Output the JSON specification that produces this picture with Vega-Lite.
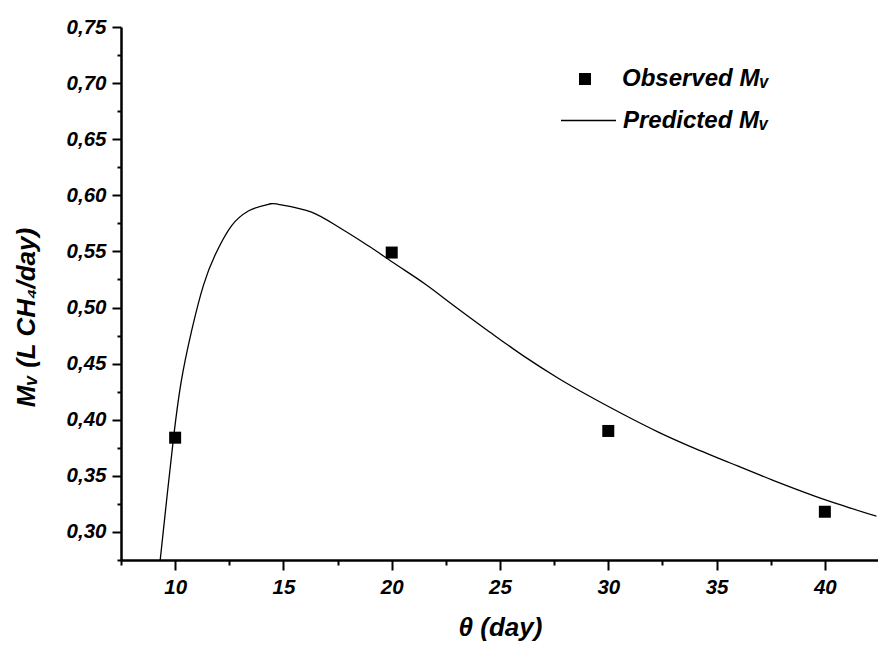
{
  "$schema": "https://vega.github.io/schema/vega-lite/v6.json",
  "autosize": "none",
  "width": 758,
  "height": 533,
  "padding": {"left": 121, "top": 27, "right": 0, "bottom": 88},
  "background": "white",
  "config": {
    "view": {"stroke": null},
    "font": "Liberation Sans",
    "axis": {
      "grid": false,
      "domainColor": "black",
      "domainWidth": 2.5,
      "tickColor": "black",
      "tickWidth": 2,
      "labelFont": "Liberation Sans",
      "labelFontWeight": "bold",
      "labelFontStyle": "italic",
      "labelFontSize": 20.5,
      "labelColor": "black",
      "titleFont": "Liberation Sans",
      "titleFontWeight": "bold",
      "titleFontStyle": "italic",
      "titleFontSize": 26,
      "titleColor": "black"
    },
    "legend": {
      "title": null,
      "orient": "none",
      "labelFont": "Liberation Sans",
      "labelFontSize": 24,
      "labelFontWeight": "bold",
      "labelFontStyle": "italic",
      "labelColor": "black",
      "symbolOpacity": 1
    }
  },
  "datasets": {
    "observed": [
      {"theta": 10, "mv": 0.384, "series": "Observed Mᵥ"},
      {"theta": 20, "mv": 0.549, "series": "Observed Mᵥ"},
      {"theta": 30, "mv": 0.390, "series": "Observed Mᵥ"},
      {"theta": 40, "mv": 0.318, "series": "Observed Mᵥ"}
    ],
    "predicted": [
      {"theta": 9.31, "mv": 0.275, "series": "Predicted Mᵥ"},
      {"theta": 9.92, "mv": 0.383, "series": "Predicted Mᵥ"},
      {"theta": 10.28, "mv": 0.434, "series": "Predicted Mᵥ"},
      {"theta": 10.77, "mv": 0.480, "series": "Predicted Mᵥ"},
      {"theta": 11.31, "mv": 0.520, "series": "Predicted Mᵥ"},
      {"theta": 11.85, "mv": 0.547, "series": "Predicted Mᵥ"},
      {"theta": 12.61, "mv": 0.573, "series": "Predicted Mᵥ"},
      {"theta": 13.38, "mv": 0.586, "series": "Predicted Mᵥ"},
      {"theta": 14.31, "mv": 0.592, "series": "Predicted Mᵥ"},
      {"theta": 14.77, "mv": 0.592, "series": "Predicted Mᵥ"},
      {"theta": 16.30, "mv": 0.585, "series": "Predicted Mᵥ"},
      {"theta": 17.69, "mv": 0.570, "series": "Predicted Mᵥ"},
      {"theta": 18.92, "mv": 0.555, "series": "Predicted Mᵥ"},
      {"theta": 20.15, "mv": 0.539, "series": "Predicted Mᵥ"},
      {"theta": 21.54, "mv": 0.521, "series": "Predicted Mᵥ"},
      {"theta": 22.92, "mv": 0.501, "series": "Predicted Mᵥ"},
      {"theta": 24.61, "mv": 0.477, "series": "Predicted Mᵥ"},
      {"theta": 26.15, "mv": 0.456, "series": "Predicted Mᵥ"},
      {"theta": 27.69, "mv": 0.437, "series": "Predicted Mᵥ"},
      {"theta": 29.22, "mv": 0.420, "series": "Predicted Mᵥ"},
      {"theta": 30.77, "mv": 0.404, "series": "Predicted Mᵥ"},
      {"theta": 32.31, "mv": 0.389, "series": "Predicted Mᵥ"},
      {"theta": 33.69, "mv": 0.377, "series": "Predicted Mᵥ"},
      {"theta": 35.69, "mv": 0.361, "series": "Predicted Mᵥ"},
      {"theta": 37.61, "mv": 0.346, "series": "Predicted Mᵥ"},
      {"theta": 39.53, "mv": 0.332, "series": "Predicted Mᵥ"},
      {"theta": 41.07, "mv": 0.322, "series": "Predicted Mᵥ"},
      {"theta": 42.38, "mv": 0.314, "series": "Predicted Mᵥ"}
    ]
  },
  "encoding": {
    "x": {
      "field": "theta",
      "type": "quantitative",
      "scale": {"domain": [7.5, 42.5], "nice": false, "zero": false},
      "axis": {
        "title": "θ (day)",
        "titleX": 379,
        "titleY": 75,
        "titleAlign": "center",
        "titleBaseline": "alphabetic",
        "values": [7.5, 10, 12.5, 15, 17.5, 20, 22.5, 25, 27.5, 30, 32.5, 35, 37.5, 40, 42.5],
        "labelExpr": "datum.value % 5 == 0 ? format(datum.value, 'd') : ''",
        "tickSize": {"condition": {"test": "datum.value % 5 != 0", "value": 5}, "value": 10},
        "labelPadding": 7,
        "labelOverlap": false
      }
    },
    "y": {
      "field": "mv",
      "type": "quantitative",
      "scale": {"domain": [0.275, 0.75], "nice": false, "zero": false},
      "axis": {
        "title": "Mᵥ (L CH₄/day)",
        "titleX": -95,
        "titleY": 290,
        "titleAngle": -90,
        "titleAlign": "center",
        "titleBaseline": "middle",
        "values": [0.275, 0.3, 0.325, 0.35, 0.375, 0.4, 0.425, 0.45, 0.475, 0.5, 0.525, 0.55, 0.575, 0.6, 0.625, 0.65, 0.675, 0.7, 0.725, 0.75],
        "labelExpr": "round(datum.value * 1000) % 50 == 0 ? replace(format(datum.value, '.2f'), '.', ',') : ''",
        "tickSize": {"condition": {"test": "round(datum.value * 1000) % 50 != 0", "value": 4}, "value": 9},
        "labelPadding": 6,
        "labelOverlap": false
      }
    }
  },
  "layer": [
    {
      "data": {"name": "predicted"},
      "mark": {"type": "line", "strokeWidth": 1.3, "interpolate": "cardinal", "clip": true},
      "encoding": {
        "color": {
          "field": "series",
          "type": "nominal",
          "scale": {"domain": ["Predicted Mᵥ"], "range": ["black"]},
          "legend": {
            "legendX": 439,
            "legendY": 65,
            "symbolType": "stroke",
            "symbolSize": 3025,
            "symbolStrokeWidth": 1.3,
            "labelOffset": 6
          }
        }
      }
    },
    {
      "data": {"name": "observed"},
      "mark": {"type": "point", "filled": true, "color": "black", "size": 144, "opacity": 1},
      "encoding": {
        "shape": {
          "field": "series",
          "type": "nominal",
          "scale": {"domain": ["Observed Mᵥ"], "range": ["square"]},
          "legend": {
            "legendX": 452,
            "legendY": 40,
            "symbolSize": 144,
            "symbolFillColor": "black",
            "labelOffset": 25
          }
        }
      }
    }
  ]
}
